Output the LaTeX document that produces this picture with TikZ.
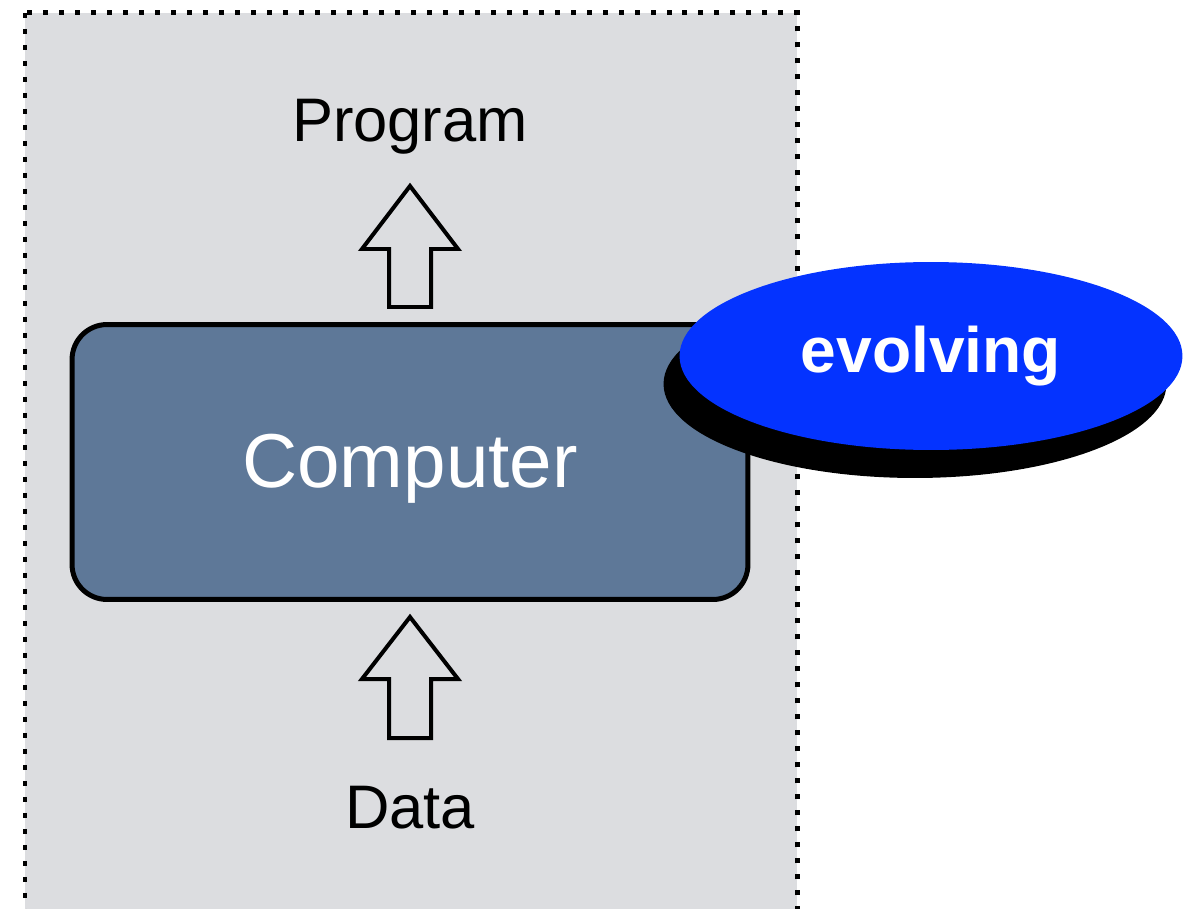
\documentclass[tikz,border=0pt]{standalone}
\usepackage{fontspec}
\setmainfont{Liberation Sans}
\usetikzlibrary{shapes,shadows,positioning}
\definecolor{panelgray}{HTML}{DCDDE0}
\definecolor{steel}{HTML}{5E7898}
\definecolor{evoblue}{HTML}{0433FF}
\begin{document}
\begin{tikzpicture}
[x=0.02cm, y=-0.02cm,
label/.style={anchor=base, inner sep=0pt, font=\fontsize{35}{40}\selectfont},
blockarrow/.style={draw, line width=0.08cm, fill=panelgray, line join=miter},
machine/.style={rectangle, draw, line width=0.1cm, rounded corners=0.7cm, fill=steel,
  minimum width=13.52cm, minimum height=5.5cm},
badge/.style={ellipse, fill=evoblue, minimum width=10.06cm, minimum height=3.76cm, text=white,
  font=\bfseries\fontsize{36.5}{42}\selectfont,
  drop shadow={shadow xshift=-0.32cm, shadow yshift=-0.56cm, fill=black, opacity=1}}]

\useasboundingbox (0,0) rectangle (1198,909);

% dotted panel, open at the bottom
\begin{scope}
\clip (0,0) rectangle (1198,909);
\draw[fill=panelgray, line width=0.1cm, dash pattern=on 0.1cm off 0.22cm] (25,13) rectangle (797,940);
\end{scope}

\node[label] (program) at (410,142) {Program};
\node[machine] (computer) at (410,462) {};
\node[anchor=base, text=white, font=\fontsize{43.5}{50}\selectfont] (computertext) at (410,487) {Computer};
\node[label] (data) at (410,828) {Data};

% hollow block arrows
\draw[blockarrow] (389,307) -- (389,249) -- (362,249) -- (410,186) -- (458,249) -- (431,249) -- (431,307) -- cycle;
\draw[blockarrow] (389,738) -- (389,679) -- (362,679) -- (410,617) -- (458,679) -- (431,679) -- (431,738) -- cycle;

\node[badge] (evolving) at (931,356) {evolving};
\end{tikzpicture}
\end{document}
